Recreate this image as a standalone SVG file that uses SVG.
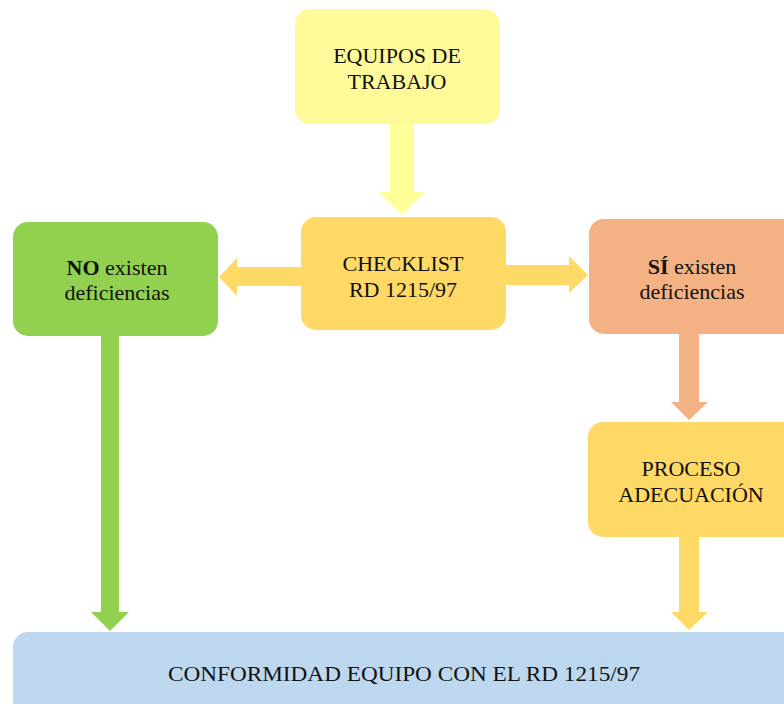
<svg xmlns="http://www.w3.org/2000/svg" width="784" height="704" viewBox="0 0 784 704">
<style>
.t{font-family:"Liberation Serif","Times New Roman",serif;font-size:22px;fill:#111;text-anchor:middle}
.b{font-weight:bold}
</style>
<rect width="784" height="704" fill="#fff"/>
<g id="connectors">
<polygon fill="#FFFF99" points="390,124 414,124 414,192 425,192 402,215 379,192 390,192"/>
<polygon fill="#FFD966" points="301,267 237,267 237,258 219,277 237,296 237,286 301,286"/>
<polygon fill="#FFD966" points="506,265 569,265 569,256 588,275 569,293 569,285 506,285"/>
<polygon fill="#F4B183" points="679,334 699,334 699,402 708,402 689,420 671,402 679,402"/>
<polygon fill="#FFD966" points="679,537 699,537 699,612 708,612 689,630 671,612 679,612"/>
<polygon fill="#92D050" points="101,336 119,336 119,612 129,612 110,631 91,612 101,612"/>
</g>
<g id="equipos">
<rect x="295" y="9" width="205" height="115" rx="15" fill="#FFFA99"/>
<text class="t" x="397" y="63">EQUIPOS DE</text>
<text class="t" x="397" y="89">TRABAJO</text>
</g>
<g id="checklist">
<rect x="301" y="217" width="205" height="113" rx="15" fill="#FFD966"/>
<text class="t" x="403" y="271">CHECKLIST</text>
<text class="t" x="403" y="297">RD 1215/97</text>
</g>
<g id="no">
<rect x="13" y="222" width="205" height="114" rx="15" fill="#92D050"/>
<text class="t" x="117" y="275"><tspan class="b">NO</tspan> existen</text>
<text class="t" x="117" y="300">deficiencias</text>
</g>
<g id="si">
<rect x="589" y="219" width="210" height="115" rx="15" fill="#F4B183"/>
<text class="t" x="692" y="274"><tspan class="b">SÍ</tspan> existen</text>
<text class="t" x="692" y="299">deficiencias</text>
</g>
<g id="proceso">
<rect x="588" y="422" width="210" height="115" rx="15" fill="#FFD966"/>
<text class="t" x="691" y="476">PROCESO</text>
<text class="t" x="691" y="502">ADECUACIÓN</text>
</g>
<g id="conformidad">
<rect x="13" y="632" width="790" height="100" rx="15" fill="#BDD7EE"/>
<text class="t" x="404" y="681" textLength="472" lengthAdjust="spacingAndGlyphs">CONFORMIDAD EQUIPO CON EL RD 1215/97</text>
</g>
</svg>
